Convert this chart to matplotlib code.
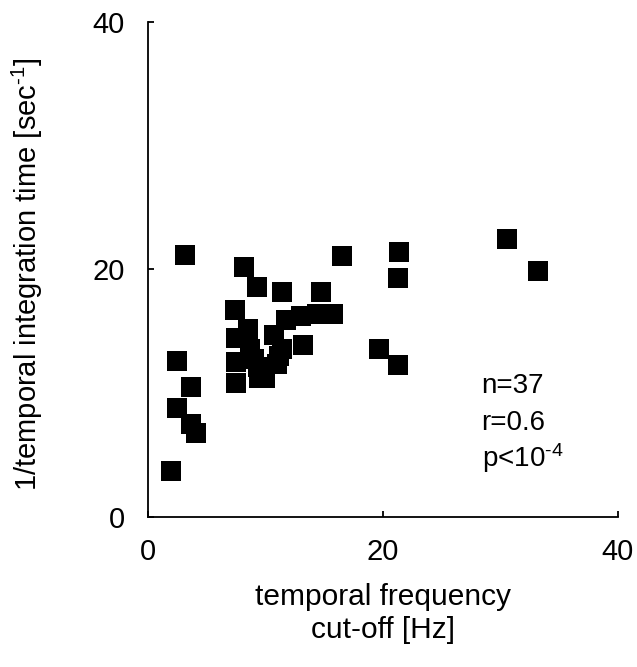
import numpy as np
import matplotlib
matplotlib.use("Agg")
import matplotlib.pyplot as plt

plt.rcParams["font.family"] = ["Liberation Sans", "DejaVu Sans"]
plt.rcParams["mathtext.fontset"] = "custom"
plt.rcParams["mathtext.rm"] = "Liberation Sans"
plt.rcParams["mathtext.it"] = "Liberation Sans:italic"

# temporal frequency cut-off [Hz] vs 1/temporal integration time [1/sec]
cutoff_hz = [
    3.2, 16.5, 8.2, 9.3, 11.4, 14.7, 7.4,
    11.8, 13.0, 14.4, 15.8,
    8.5, 7.5, 10.7, 8.7, 11.4, 13.2, 19.7,
    7.5, 9.4, 11.0, 2.5, 3.7, 7.5, 9.5, 10.0,
    2.5, 3.7, 4.1, 2.0,
    21.4, 21.3, 30.6, 33.2, 21.3,
    9.0, 11.2,
]
inv_integration = [
    21.2, 21.1, 20.2, 18.6, 18.2, 18.2, 16.7,
    15.9, 16.2, 16.4, 16.4,
    15.2, 14.5, 14.7, 13.6, 13.6, 13.9, 13.6,
    12.5, 12.1, 12.4, 12.6, 10.5, 10.8, 11.2, 11.2,
    8.8, 7.5, 6.8, 3.7,
    21.4, 19.3, 22.5, 19.9, 12.3,
    12.8, 13.0,
]
stats_lines = ["n=37", "r=0.6", "p<10$^{\u20104}$"]
stats_y = [10.0, 7.0, 4.0]

fig = plt.figure(figsize=(6.37, 6.67), dpi=100)
ax = fig.add_axes([0.232, 0.225, 0.738, 0.742])

ax.plot(cutoff_hz, inv_integration, "s", color="black", markersize=14,
        markeredgewidth=0, clip_on=False)

ax.set_xlim(0, 40)
ax.set_ylim(0, 40)
ax.set_xticks([0, 20, 40])
ax.set_yticks([0, 20, 40])
ax.spines["top"].set_visible(False)
ax.spines["right"].set_visible(False)
for s in ["left", "bottom"]:
    ax.spines[s].set_linewidth(1.3)
ax.tick_params(axis="both", direction="in", length=4, width=1.3, labelsize=21)
ax.tick_params(axis="x", pad=15)
ax.tick_params(axis="y", pad=16.5)

ax.set_xlabel("temporal frequency\ncut-off [Hz]", fontsize=21.5,
              linespacing=1.25, va="center")
ax.xaxis.set_label_coords(0.5, -0.195)
ax.set_ylabel("1/temporal integration time [sec$^{\u20101}$]", fontsize=21,
              va="center")
ax.yaxis.set_label_coords(-0.256, 0.49)

for yy, line in zip(stats_y, stats_lines):
    ax.text(28.4, yy, line, fontsize=20, va="baseline", ha="left")

fig.savefig("out.png", dpi=100)
